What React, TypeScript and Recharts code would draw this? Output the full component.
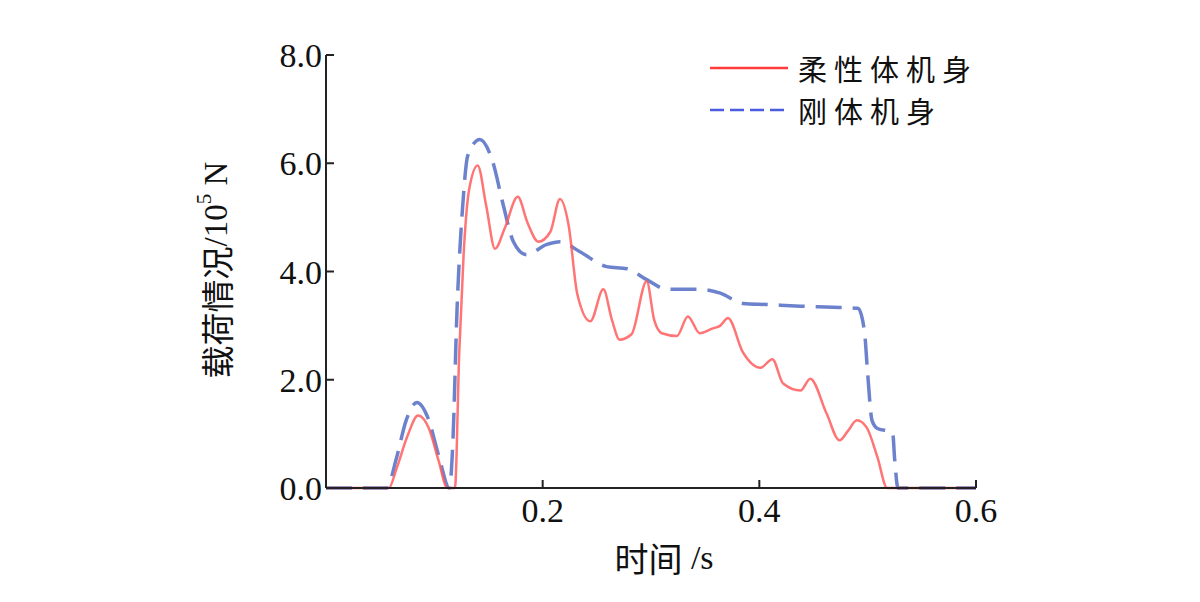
import React from "react";
import { Legend, Line, LineChart, XAxis, YAxis } from "recharts";

// 时间 (s) and 载荷 (10^5 N)
const flexTime = [
	0, 0.058, 0.065, 0.075, 0.085, 0.095, 0.104, 0.112, 0.119, 0.123, 0.127,
	0.132, 0.14, 0.148, 0.156, 0.165, 0.177, 0.186, 0.196, 0.207, 0.216, 0.224,
	0.232, 0.244, 0.256, 0.264, 0.271, 0.282, 0.296, 0.303, 0.31, 0.324, 0.334,
	0.345, 0.357, 0.364, 0.371, 0.385, 0.401, 0.412, 0.422, 0.438, 0.447, 0.462,
	0.474, 0.482, 0.49, 0.499, 0.509, 0.518, 0.6,
];
const flexLoad = [
	0, 0, 0.35, 0.95, 1.34, 1.1, 0.5, 0, 0, 2.5, 4.3, 5.5, 5.96, 5.2, 4.42, 4.8,
	5.38, 4.9, 4.55, 4.73, 5.34, 4.85, 3.58, 3.08, 3.67, 3.1, 2.74, 2.84, 3.82,
	3.1, 2.86, 2.81, 3.17, 2.86, 2.95, 3.0, 3.14, 2.5, 2.22, 2.38, 1.93, 1.8,
	2.02, 1.38, 0.88, 1.06, 1.25, 1.12, 0.57, 0, 0,
];

const rigidTime = [
	0, 0.056, 0.065, 0.074, 0.084, 0.094, 0.104, 0.114, 0.117, 0.121, 0.126,
	0.131, 0.142, 0.154, 0.163, 0.173, 0.185, 0.204, 0.216, 0.234, 0.259, 0.278,
	0.296, 0.315, 0.345, 0.364, 0.385, 0.407, 0.438, 0.468, 0.491, 0.497, 0.5,
	0.504, 0.509, 0.523, 0.525, 0.528, 0.6,
];
const rigidLoad = [
	0, 0, 0.55, 1.25, 1.58, 1.3, 0.6, 0, 0.8, 3.32, 5.16, 6.15, 6.44, 6.02, 5.28,
	4.55, 4.31, 4.5, 4.55, 4.37, 4.09, 4.05, 3.85, 3.67, 3.67, 3.6, 3.41, 3.39,
	3.36, 3.34, 3.32, 2.9, 2.11, 1.25, 1.1, 1.03, 0.51, 0, 0,
];

const xTicks = [0.2, 0.4, 0.6];
const yTicks = [0, 2, 4, 6, 8];

const flexData = flexTime.map((t, i) => ({ t, load: flexLoad[i] }));
const rigidData = rigidTime.map((t, i) => ({ t, load: rigidLoad[i] }));

const serif = "'Liberation Serif', 'Noto Sans CJK SC', serif";
const cjk = "'Noto Sans CJK SC', sans-serif";
const axisColor = "#222";

const legendRow: React.CSSProperties = {
	display: "flex",
	alignItems: "center",
	height: 42,
};
const legendText: React.CSSProperties = {
	letterSpacing: 7,
	lineHeight: "29px",
};

const LegendBox = () => (
	<div style={{ fontFamily: cjk, fontSize: 29, color: "#111", lineHeight: 1 }}>
		<div style={legendRow}>
			<svg width={80} height={10} style={{ marginRight: 8 }}>
				<line x1={0} y1={5} x2={78} y2={5} stroke="#ff3b3b" strokeWidth={2.5} />
			</svg>
			<div style={legendText}>柔性体机身</div>
		</div>
		<div style={legendRow}>
			<svg width={80} height={10} style={{ marginRight: 8 }}>
				<line
					x1={0}
					y1={5}
					x2={78}
					y2={5}
					stroke="#4a5ce0"
					strokeWidth={2.5}
					strokeDasharray="14 6"
				/>
			</svg>
			<div style={legendText}>刚体机身</div>
		</div>
	</div>
);

const YLabel = () => (
	<text
		transform="translate(216,270) rotate(-90)"
		textAnchor="middle"
		dominantBaseline="central"
		fontFamily={serif}
		fontSize={33}
		fill="#111"
	>
		<tspan fontFamily={cjk}>载荷情况</tspan>
		<tspan>/10</tspan>
		<tspan fontSize={21} dy={-12}>
			5
		</tspan>
		<tspan dy={12}> N</tspan>
	</text>
);

const XLabel = () => (
	<text
		x={664}
		y={557}
		textAnchor="middle"
		dominantBaseline="central"
		fontFamily={serif}
		fontSize={34}
		fill="#111"
	>
		<tspan fontFamily={cjk}>时间</tspan>
		<tspan> /s</tspan>
	</text>
);

export default function App() {
	return (
		<div style={{ position: "absolute", left: 0, top: 0, background: "#fff" }}>
			<LineChart
				width={1200}
				height={602}
				margin={{ top: 55, right: 224, bottom: 0, left: 0 }}
			>
				<XAxis
					type="number"
					dataKey="t"
					domain={[0, 0.6]}
					ticks={xTicks}
					allowDataOverflow
					height={114}
					stroke={axisColor}
					strokeWidth={2}
					tickSize={-8}
					tickMargin={18}
					tick={{ fontSize: 34, fill: "#111", fontFamily: serif }}
					tickFormatter={(v: number) => v.toFixed(1)}
					label={<XLabel />}
				/>
				<YAxis
					type="number"
					dataKey="load"
					domain={[0, 8]}
					ticks={yTicks}
					width={326}
					stroke={axisColor}
					strokeWidth={2}
					tickSize={-8}
					tickMargin={12}
					tick={{ fontSize: 34, fill: "#111", fontFamily: serif }}
					tickFormatter={(v: number) => v.toFixed(1)}
					label={<YLabel />}
				/>
				<Legend
					layout="vertical"
					verticalAlign="middle"
					align="center"
					content={<LegendBox />}
					wrapperStyle={{ position: "absolute", left: 710, top: 47, width: 320 }}
				/>
				<Line
					data={rigidData}
					dataKey="load"
					type="monotone"
					stroke="#5d74c8"
					strokeOpacity={0.9}
					strokeWidth={3.5}
					strokeDasharray="26 11"
					dot={false}
					isAnimationActive={false}
					name="刚体机身"
				/>
				<Line
					data={flexData}
					dataKey="load"
					type="monotone"
					stroke="#ff5c5c"
					strokeOpacity={0.85}
					strokeWidth={2.5}
					dot={false}
					isAnimationActive={false}
					name="柔性体机身"
				/>
			</LineChart>
		</div>
	);
}
